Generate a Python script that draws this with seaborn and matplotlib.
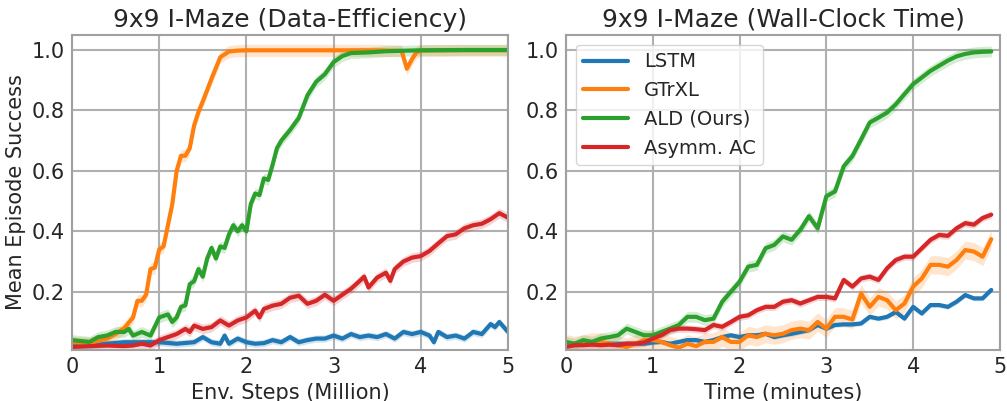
import numpy as np
import pandas as pd
import matplotlib
matplotlib.use('Agg')
import matplotlib.pyplot as plt
import seaborn as sns

methods = ['LSTM', 'GTrXL', 'ALD (Ours)', 'Asymm. AC']
colors = ['#1f77b4', '#ff7f0e', '#2ca02c', '#d62728']

# ---- left panel: success vs env steps (million) ----
lstm_x = [0, 0.2, 0.4, 0.6, 0.8, 1.0, 1.2, 1.4, 1.5, 1.6, 1.7, 1.75, 1.8, 1.9, 2.0, 2.1, 2.2, 2.3, 2.4,
          2.5, 2.6, 2.7, 2.8, 2.9, 3.0, 3.1, 3.2, 3.3, 3.4, 3.5, 3.6, 3.7, 3.8, 3.9, 4.0, 4.1, 4.15,
          4.2, 4.3, 4.4, 4.5, 4.6, 4.7, 4.8, 4.85, 4.9, 5.0]
lstm_y = [0.022, 0.022, 0.028, 0.033, 0.033, 0.033, 0.028, 0.033, 0.05, 0.033, 0.028, 0.055, 0.028,
          0.045, 0.033, 0.028, 0.03, 0.04, 0.033, 0.05, 0.033, 0.04, 0.045, 0.045, 0.055, 0.045,
          0.06, 0.05, 0.055, 0.05, 0.06, 0.045, 0.067, 0.06, 0.067, 0.055, 0.033, 0.067, 0.05,
          0.055, 0.045, 0.067, 0.06, 0.093, 0.083, 0.10, 0.067]

gtrxl_x = [0, 0.2, 0.4, 0.5, 0.6, 0.7, 0.75, 0.8, 0.85, 0.9, 0.95, 1.0, 1.05, 1.1, 1.15, 1.2, 1.25,
           1.3, 1.35, 1.4, 1.45, 1.5, 1.6, 1.7, 1.8, 1.9, 2.0, 2.5, 3.0, 3.5, 3.78, 3.84, 3.9, 3.95,
           4.0, 4.5, 5.0]
gtrxl_y = [0.033, 0.03, 0.045, 0.06, 0.08, 0.115, 0.17, 0.17, 0.19, 0.275, 0.28, 0.34, 0.35, 0.42,
           0.49, 0.60, 0.65, 0.65, 0.675, 0.75, 0.795, 0.83, 0.905, 0.976, 0.995, 0.998, 0.999,
           0.999, 0.999, 0.999, 0.997, 0.938, 0.97, 0.992, 0.998, 0.999, 0.999]

ald_x = [0, 0.2, 0.3, 0.4, 0.5, 0.6, 0.65, 0.7, 0.8, 0.9, 1.0, 1.05, 1.1, 1.15, 1.2, 1.25, 1.3,
         1.35, 1.4, 1.45, 1.5, 1.55, 1.6, 1.65, 1.7, 1.75, 1.8, 1.85, 1.9, 1.95, 2.0, 2.05, 2.1,
         2.15, 2.2, 2.25, 2.3, 2.35, 2.4, 2.5, 2.6, 2.7, 2.8, 2.9, 3.0, 3.1, 3.2, 3.4, 3.6, 4.0,
         4.5, 5.0]
ald_y = [0.04, 0.034, 0.05, 0.055, 0.067, 0.067, 0.077, 0.055, 0.067, 0.055, 0.115, 0.12, 0.125,
         0.10, 0.115, 0.15, 0.155, 0.225, 0.235, 0.275, 0.25, 0.31, 0.345, 0.31, 0.35, 0.345, 0.39,
         0.42, 0.40, 0.42, 0.40, 0.49, 0.525, 0.52, 0.575, 0.57, 0.62, 0.675, 0.70, 0.735, 0.775,
         0.85, 0.895, 0.92, 0.96, 0.98, 0.99, 0.992, 0.996, 0.999, 1.0, 1.0]

asym_x = [0, 0.2, 0.4, 0.6, 0.7, 0.8, 0.9, 1.0, 1.1, 1.2, 1.3, 1.35, 1.4, 1.5, 1.6, 1.7, 1.8, 1.9,
          2.0, 2.1, 2.15, 2.2, 2.3, 2.4, 2.5, 2.6, 2.7, 2.8, 2.9, 3.0, 3.1, 3.2, 3.3, 3.35, 3.4,
          3.5, 3.6, 3.65, 3.7, 3.8, 3.9, 4.0, 4.1, 4.2, 4.3, 4.4, 4.5, 4.6, 4.7, 4.8, 4.9, 5.0]
asym_y = [0.017, 0.02, 0.022, 0.02, 0.022, 0.028, 0.022, 0.04, 0.05, 0.06, 0.077, 0.067, 0.088,
          0.077, 0.083, 0.105, 0.088, 0.105, 0.115, 0.137, 0.115, 0.143, 0.154, 0.16, 0.18, 0.187,
          0.16, 0.17, 0.19, 0.17, 0.19, 0.21, 0.236, 0.25, 0.214, 0.247, 0.263, 0.236, 0.275, 0.30,
          0.313, 0.318, 0.335, 0.36, 0.384, 0.39, 0.41, 0.42, 0.425, 0.44, 0.46, 0.445]

# ---- right panel: success vs wall-clock time (minutes) ----
time_x = [round(0.1 * i, 1) for i in range(50)]
lstm_t = [0.023, 0.028, 0.028, 0.028, 0.028, 0.028, 0.028, 0.028, 0.028, 0.028, 0.032, 0.034,
          0.028, 0.034, 0.04, 0.04, 0.034, 0.04, 0.05, 0.056, 0.05, 0.056, 0.056, 0.061, 0.05,
          0.056, 0.061, 0.067, 0.073, 0.09, 0.078, 0.09, 0.092, 0.092, 0.095, 0.117, 0.111, 0.117,
          0.133, 0.111, 0.15, 0.128, 0.156, 0.156, 0.15, 0.167, 0.189, 0.178, 0.178, 0.206]
gtrxl_t = [0.028, 0.023, 0.028, 0.034, 0.034, 0.028, 0.023, 0.017, 0.028, 0.04, 0.04, 0.034,
           0.023, 0.015, 0.028, 0.02, 0.034, 0.034, 0.05, 0.034, 0.034, 0.056, 0.05, 0.061, 0.056,
           0.061, 0.073, 0.078, 0.073, 0.10, 0.078, 0.117, 0.117, 0.108, 0.194, 0.15, 0.183, 0.172,
           0.139, 0.161, 0.217, 0.244, 0.289, 0.289, 0.283, 0.305, 0.338, 0.333, 0.316, 0.374]
ald_t = [0.034, 0.028, 0.04, 0.034, 0.045, 0.05, 0.056, 0.078, 0.067, 0.056, 0.056, 0.067, 0.078,
         0.09, 0.117, 0.117, 0.106, 0.111, 0.167, 0.20, 0.233, 0.283, 0.289, 0.344, 0.355, 0.383,
         0.372, 0.405, 0.45, 0.41, 0.516, 0.532, 0.615, 0.649, 0.704, 0.76, 0.776, 0.793, 0.82,
         0.854, 0.887, 0.909, 0.931, 0.948, 0.965, 0.979, 0.987, 0.992, 0.994, 0.995]
asym_t = [0.017, 0.023, 0.023, 0.025, 0.023, 0.025, 0.023, 0.028, 0.028, 0.032, 0.045, 0.056,
          0.073, 0.078, 0.078, 0.076, 0.073, 0.09, 0.084, 0.10, 0.117, 0.122, 0.139, 0.15, 0.15,
          0.167, 0.172, 0.161, 0.172, 0.183, 0.183, 0.178, 0.239, 0.217, 0.244, 0.25, 0.239, 0.278,
          0.305, 0.316, 0.316, 0.344, 0.372, 0.388, 0.385, 0.41, 0.427, 0.422, 0.444, 0.455]

# half-width of the shaded band for each method
band_left = [0.012, 0.02, 0.018, 0.016]
band_right = [0.008, 0.03, 0.018, 0.012]


def make_df(xs, ys):
    rows = []
    for m, x, y in zip(methods, xs, ys):
        rows.append(pd.DataFrame({'method': m, 'x': x, 'y': y}))
    return pd.concat(rows, ignore_index=True)


df_left = make_df([lstm_x, gtrxl_x, ald_x, asym_x], [lstm_y, gtrxl_y, ald_y, asym_y])
df_right = make_df([time_x] * 4, [lstm_t, gtrxl_t, ald_t, asym_t])

sns.set_style('whitegrid', {'grid.color': '#b0b0b0', 'axes.edgecolor': '#a0a0a0'})
plt.rcParams['font.family'] = ['DejaVu Sans']

fig = plt.figure(figsize=(10.07, 4.01), dpi=100)
ax1 = fig.add_axes([0.0715, 0.127, 0.433, 0.786])
ax2 = fig.add_axes([0.562, 0.127, 0.431, 0.786])

palette = dict(zip(methods, colors))
for ax, df, band in [(ax1, df_left, band_left), (ax2, df_right, band_right)]:
    for m, b in zip(methods, band):
        d = df[df['method'] == m]
        ax.fill_between(d['x'], d['y'] - b, d['y'] + b, color=palette[m], alpha=0.2, lw=0)
    sns.lineplot(data=df, x='x', y='y', hue='method', palette=palette, linewidth=3,
                 errorbar=None, ax=ax, legend=(ax is ax2))
    ax.set_xlim(0, 5)
    ax.set_ylim(0.007, 1.05)
    ax.set_xticks([0, 1, 2, 3, 4, 5])
    ax.set_yticks([0.2, 0.4, 0.6, 0.8, 1.0])
    ax.tick_params(labelsize=15, length=0, pad=5)
    ax.grid(True, linewidth=1.5)
    for s in ax.spines.values():
        s.set_linewidth(1.5)

ax1.set_title('9x9 I-Maze (Data-Efficiency)', fontsize=18)
ax2.set_title('9x9 I-Maze (Wall-Clock Time)', fontsize=18)
ax1.set_xlabel('Env. Steps (Million)', fontsize=15)
ax2.set_xlabel('Time (minutes)', fontsize=15)
ax1.set_ylabel('Mean Episode Success', fontsize=15)
ax2.set_ylabel('')

leg = ax2.legend(loc='upper left', fontsize=14, handlelength=2.3, frameon=True)
for line in leg.get_lines():
    line.set_linewidth(3)

fig.savefig('out.png', dpi=100)
